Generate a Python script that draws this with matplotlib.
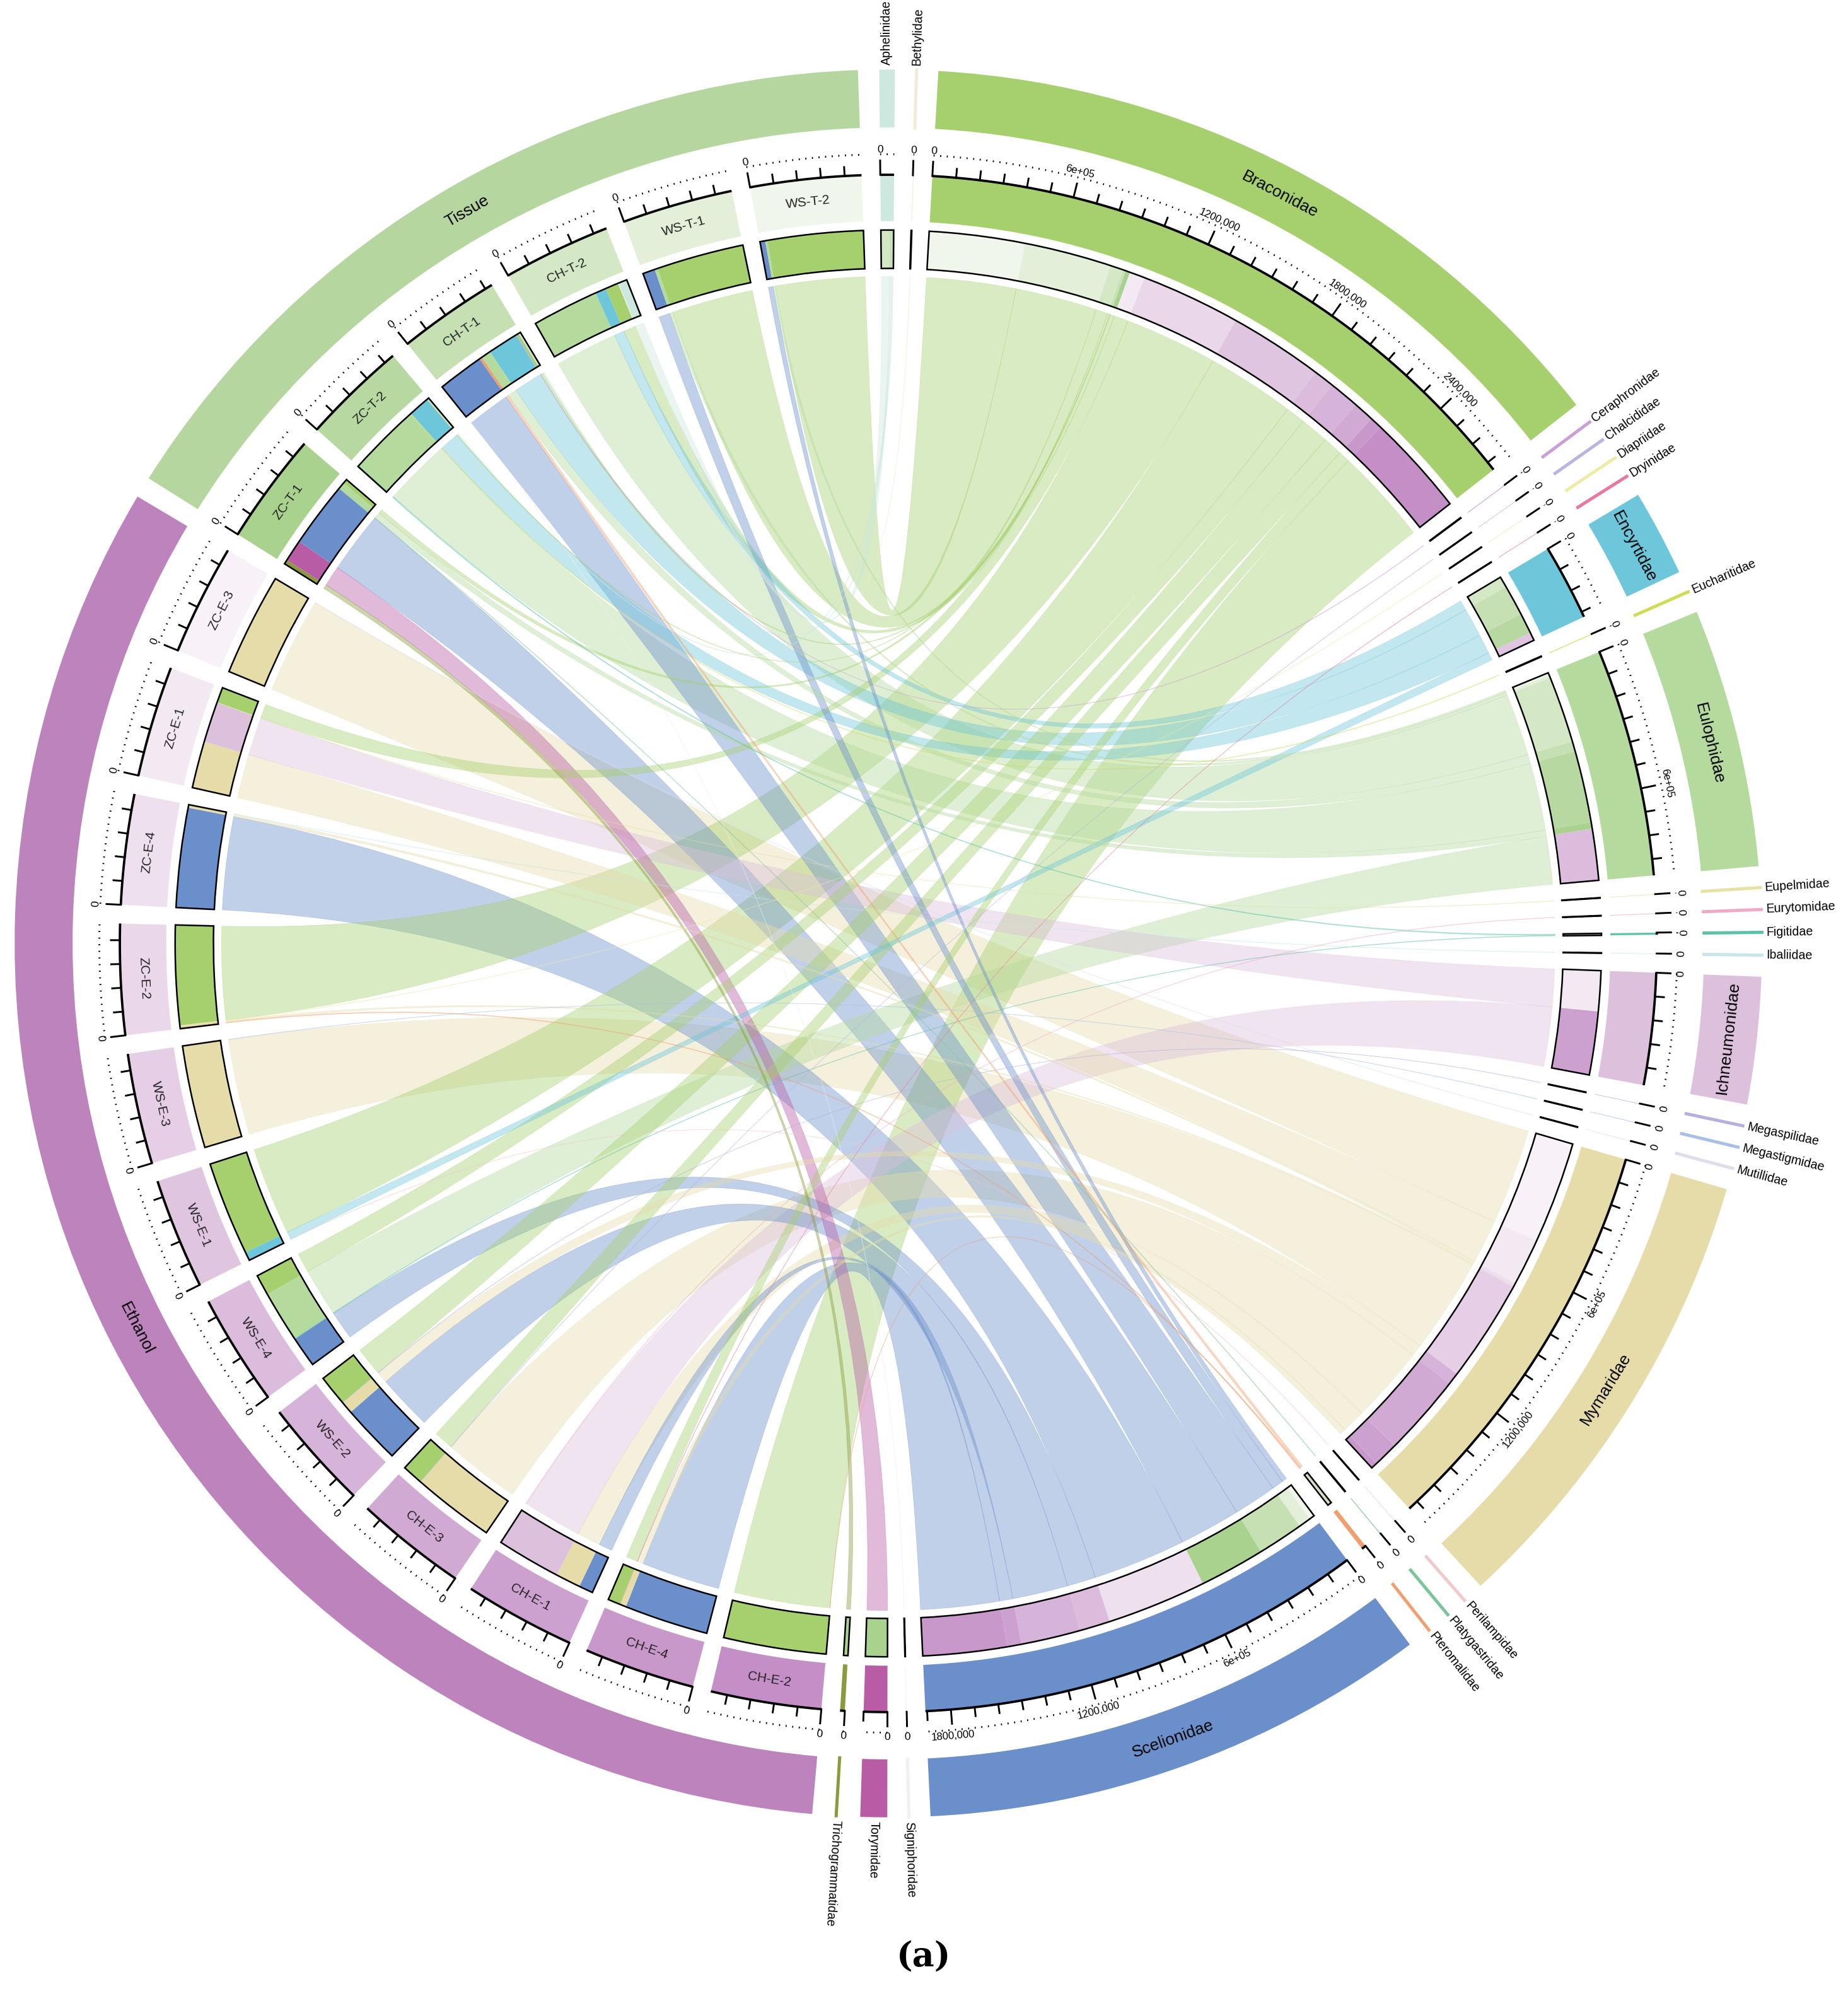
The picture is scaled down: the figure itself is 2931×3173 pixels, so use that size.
import numpy as np
import matplotlib
matplotlib.use("Agg")
import matplotlib.pyplot as plt
from matplotlib.patches import Wedge, PathPatch
from matplotlib.path import Path

plt.rcParams['font.family'] = ['Liberation Sans', 'DejaVu Sans']

# families, clockwise from the top
families = ["Aphelinidae", "Bethylidae", "Braconidae", "Ceraphronidae", "Chalcididae",
            "Diapriidae", "Dryinidae", "Encyrtidae", "Eucharitidae", "Eulophidae",
            "Eupelmidae", "Eurytomidae", "Figitidae", "Ibaliidae", "Ichneumonidae",
            "Megaspilidae", "Megastigmidae", "Mutillidae", "Mymaridae", "Perilampidae",
            "Platygastridae", "Pteromalidae", "Scelionidae", "Signiphoridae", "Torymidae",
            "Trichogrammatidae"]
family_colors = ["#cde8de", "#f4ead8", "#a6d06e", "#c9a0d6", "#b9b4e0",
                 "#eeeaa8", "#e9789e", "#6ec6da", "#cfdc58", "#b5da9e",
                 "#e6e2a4", "#f0a8c4", "#5ec2aa", "#c6e6ea", "#dcc0dc",
                 "#b4b0e0", "#a8c0e8", "#e0dcec", "#e6dcaa", "#f4c8c8",
                 "#7cc49a", "#f0a070", "#6a8fcb", "#f0f0f0", "#b85ca6",
                 "#8a9a3c"]

# samples, clockwise from the bottom
samples = ["CH-E-2", "CH-E-4", "CH-E-1", "CH-E-3", "WS-E-2", "WS-E-4", "WS-E-1", "WS-E-3",
           "ZC-E-2", "ZC-E-4", "ZC-E-1", "ZC-E-3",
           "ZC-T-1", "ZC-T-2", "CH-T-1", "CH-T-2", "WS-T-1", "WS-T-2"]
groups = ["Ethanol"] * 12 + ["Tissue"] * 6
group_colors = {"Ethanol": "#bd83bc", "Tissue": "#b5d69f"}

# reads (thousands): sample -> {family: value}
reads = {
    "CH-E-2": {"Braconidae": 468, "Pteromalidae": 2},
    "CH-E-4": {"Braconidae": 56, "Mymaridae": 28, "Scelionidae": 385, "Dryinidae": 2},
    "CH-E-1": {"Ichneumonidae": 290, "Mymaridae": 115, "Scelionidae": 65, "Eurytomidae": 2},
    "CH-E-3": {"Braconidae": 95, "Mymaridae": 375, "Chalcididae": 2},
    "WS-E-2": {"Braconidae": 140, "Mymaridae": 55, "Scelionidae": 272, "Megaspilidae": 2},
    "WS-E-4": {"Braconidae": 95, "Eulophidae": 235, "Scelionidae": 140, "Figitidae": 3},
    "WS-E-1": {"Braconidae": 430, "Encyrtidae": 38, "Perilampidae": 2},
    "WS-E-3": {"Mymaridae": 468, "Megastigmidae": 2},
    "ZC-E-2": {"Braconidae": 455, "Mymaridae": 8, "Pteromalidae": 5, "Diapriidae": 2},
    "ZC-E-4": {"Scelionidae": 455, "Mymaridae": 12, "Ibaliidae": 2},
    "ZC-E-1": {"Braconidae": 70, "Ichneumonidae": 185, "Mymaridae": 215, "Eupelmidae": 2},
    "ZC-E-3": {"Mymaridae": 468, "Mutillidae": 2},
    "ZC-T-1": {"Trichogrammatidae": 20, "Torymidae": 100, "Scelionidae": 300,
               "Eulophidae": 30, "Braconidae": 20, "Platygastridae": 3},
    "ZC-T-2": {"Aphelinidae": 8, "Figitidae": 6, "Eulophidae": 330, "Encyrtidae": 95,
               "Braconidae": 3, "Eucharitidae": 3},
    "CH-T-1": {"Scelionidae": 210, "Pteromalidae": 12, "Eulophidae": 45, "Encyrtidae": 140,
               "Braconidae": 10, "Aphelinidae": 10, "Ceraphronidae": 3, "Signiphoridae": 2},
    "CH-T-2": {"Eulophidae": 305, "Encyrtidae": 50, "Braconidae": 60, "Aphelinidae": 40,
               "Bethylidae": 3},
    "WS-T-1": {"Scelionidae": 56, "Eulophidae": 14, "Braconidae": 400},
    "WS-T-2": {"Scelionidae": 24, "Eulophidae": 10, "Braconidae": 437},
}

tick_labels = {600: "6e+05", 1200: "1200,000", 1800: "1800,000", 2400: "2400,000"}

def mix(c1, c2, t):
    a = np.array(matplotlib.colors.to_rgb(c1)); b = np.array(matplotlib.colors.to_rgb(c2))
    return tuple(a + (b - a) * t)

# sample shades: ethanol purple -> pale (ZC-E-3 palest), tissue green -> pale (WS-T-2 palest)
sample_colors = {}
for i, s in enumerate(samples[:12]):
    sample_colors[s] = mix("#c38fc6", "#f8f2f8", i / 11)
for i, s in enumerate(samples[12:]):
    sample_colors[s] = mix("#a9d28e", "#f1f6ec", i / 5)

M = np.array([[reads[s].get(f, 0) for f in families] for s in samples], dtype=float)
fam_tot = M.sum(axis=0)
smp_tot = M.sum(axis=1)

# ---- layout ----
sectors = [(f, fam_tot[i], "fam") for i, f in enumerate(families)] + \
          [(s, smp_tot[i], "smp") for i, s in enumerate(samples)]
gap = 1.4
start = 90.6
total = sum(v for _, v, _ in sectors)
k = (360 - gap * len(sectors)) / total
pos = {}
a = start
for name, v, kind in sectors:
    pos[name] = (a, a - v * k)
    a = a - v * k - gap

fig = plt.figure(figsize=(2931 / 300, 3173 / 300), dpi=300)
ax = fig.add_axes([0, 0, 1, 1])
ax.set_xlim(-0.994, 1.074)
ax.set_ylim(-1.186, 1.058)
ax.set_aspect("equal")
ax.axis("off")

def pt(r, deg):
    t = np.deg2rad(deg)
    return r * np.cos(t), r * np.sin(t)

def wedge(r_in, r_out, a1, a2, fc, ec="none", lw=0):
    ax.add_patch(Wedge((0, 0), r_out, min(a1, a2), max(a1, a2), width=r_out - r_in,
                       facecolor=fc, edgecolor=ec, linewidth=lw))

def tang_text(r, deg, s, size, **kw):
    d = (deg + 360) % 360
    rot = d - 90 if 0 <= d <= 180 else d + 90
    x, y = pt(r, deg)
    ax.text(x, y, s, rotation=rot, ha="center", va="center", fontsize=size,
            rotation_mode="anchor", **kw)

R_BAND = (0.915, 0.98)
R_DOT = 0.885
R_SEC = (0.81, 0.862)
R_CMP = (0.757, 0.80)
R_LINK = 0.748

# sector rings, axes, labels
for name, v, kind in sectors:
    a1, a2 = pos[name]
    mid = (a1 + a2) / 2
    col = family_colors[families.index(name)] if kind == "fam" else sample_colors[name]
    wedge(R_SEC[0], R_SEC[1], a1, a2, col)
    th = np.linspace(a1, a2, 60)
    ax.plot(*pt(R_SEC[1], th), color="black", lw=0.9, solid_capstyle="butt")
    for t in np.arange(0, v + 1e-9, 100):
        ang = a1 - t * k
        major = (t % 600 == 0)
        r2 = R_SEC[1] + (0.016 if major else 0.01)
        ax.plot(*zip(pt(R_SEC[1], ang), pt(r2, ang)), color="black", lw=0.7)
        if t == 0:
            tang_text(R_SEC[1] + 0.028, ang, "0", 4.2)
        elif kind == "fam" and t in tick_labels:
            tang_text(R_SEC[1] + 0.03, ang, tick_labels[int(t)], 4.0)
    ax.plot(*pt(R_DOT, th), color="black", lw=0.7, linestyle=(0, (0.6, 3.0)))
    if kind == "smp":
        tang_text((R_SEC[0] + R_SEC[1]) / 2, mid, name, 5.0, color="#222222")

# outer bands
for i, f in enumerate(families):
    a1, a2 = pos[f]
    mid = (a1 + a2) / 2
    if a1 - a2 > 0.6:
        wedge(R_BAND[0], R_BAND[1], a1, a2, family_colors[i])
    else:
        ax.plot(*zip(pt(R_BAND[0], mid), pt(R_BAND[1], mid)), color=family_colors[i], lw=1.2)
    if a1 - a2 > 4:
        tang_text((R_BAND[0] + R_BAND[1]) / 2, mid, f, 6.3)
    else:
        d = ((mid + 180) % 360) - 180
        x, y = pt(R_BAND[1] + 0.005, mid)
        if -95 <= d <= 95:
            ax.text(x, y, f, rotation=d, ha="left", va="center", fontsize=4.7,
                    rotation_mode="anchor")
        else:
            ax.text(x, y, f, rotation=d - 180, ha="right", va="center", fontsize=4.7,
                    rotation_mode="anchor")

for g in ["Ethanol", "Tissue"]:
    members = [s for s, gg in zip(samples, groups) if gg == g]
    a1 = pos[members[0]][0]
    a2 = pos[members[-1]][1]
    wedge(R_BAND[0], R_BAND[1], a1, a2, group_colors[g])
    tang_text((R_BAND[0] + R_BAND[1]) / 2, (a1 + a2) / 2, g, 6.3)

# composition rings and links
fam_cursor = {f: pos[f][0] for f in families}
smp_cursor = {s: pos[s][0] for s in samples}
links = []
for si in range(len(samples) - 1, -1, -1):  # family side: last sample first
    s = samples[si]
    for fi, f in enumerate(families):
        v = M[si, fi]
        if v <= 0:
            continue
        b1 = fam_cursor[f]; b2 = b1 - v * k
        fam_cursor[f] = b2
        wedge(R_CMP[0], R_CMP[1], b1, b2, sample_colors[s])
        links.append([s, f, v, b1, b2])
link_s = {}
for si, s in enumerate(samples):
    for fi in range(len(families) - 1, -1, -1):  # sample side: last family first
        f = families[fi]
        v = M[si, fi]
        if v <= 0:
            continue
        a1 = smp_cursor[s]; a2 = a1 - v * k
        smp_cursor[s] = a2
        wedge(R_CMP[0], R_CMP[1], a1, a2, family_colors[fi])
        link_s[(s, f)] = (a1, a2)

for name, v, kind in sectors:
    a1, a2 = pos[name]
    wedge(R_CMP[0], R_CMP[1], a1, a2, "none", ec="black", lw=0.6)

def arc(r, d1, d2, n=40):
    t = np.deg2rad(np.linspace(d1, d2, n))
    return list(zip(r * np.cos(t), r * np.sin(t)))

links.sort(key=lambda l: -l[2])
for s, f, v, b1, b2 in links:
    a1, a2 = link_s[(s, f)]
    verts = arc(R_LINK, a1, a2)
    codes = [Path.MOVETO] + [Path.LINETO] * (len(verts) - 1)
    verts += [(0, 0), pt(R_LINK, b1)]
    codes += [Path.CURVE3, Path.CURVE3]
    fa = arc(R_LINK, b1, b2)
    verts += fa[1:]
    codes += [Path.LINETO] * (len(fa) - 1)
    verts += [(0, 0), pt(R_LINK, a1)]
    codes += [Path.CURVE3, Path.CURVE3]
    col = family_colors[families.index(f)]
    ax.add_patch(PathPatch(Path(verts, codes), facecolor=col, alpha=0.42,
                           edgecolor=col, lw=0.15))

ax.text(0.04, -1.136, "(a)", ha="center", va="center", fontsize=13, fontweight="bold",
        family="DejaVu Serif")

fig.savefig("out.png", dpi=300)
